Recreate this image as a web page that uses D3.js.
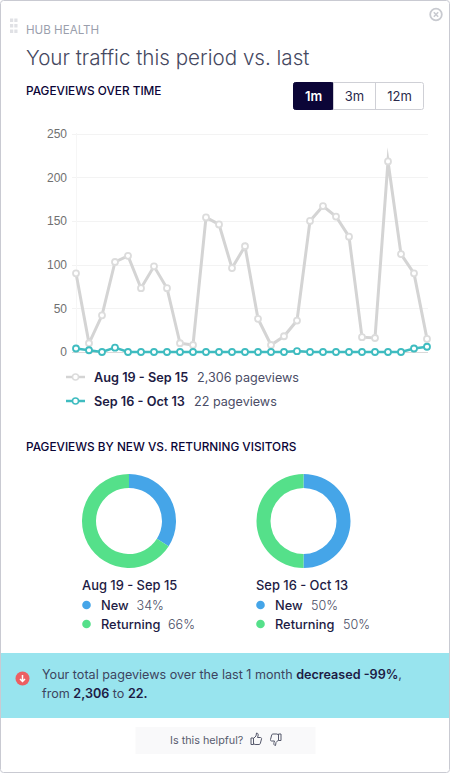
<!DOCTYPE html>
<html>
<head>
<meta charset="utf-8">
<script src="https://cdn.jsdelivr.net/npm/d3@7"></script>
<style>
body { margin: 0; background: #fff; }
svg { display: block; font-family: Inter, "Noto Sans", sans-serif; }
.axis text { font-family: "Liberation Sans", Arial, sans-serif; font-size: 12px; fill: #707070; }
</style>
</head>
<body>
<svg id="chart" width="450" height="773"></svg>
<script>
var days = ['Aug 19','Aug 20','Aug 21','Aug 22','Aug 23','Aug 24','Aug 25','Aug 26','Aug 27','Aug 28','Aug 29','Aug 30','Aug 31','Sep 1',
    'Sep 2','Sep 3','Sep 4','Sep 5','Sep 6','Sep 7','Sep 8','Sep 9','Sep 10','Sep 11','Sep 12','Sep 13','Sep 14','Sep 15']
var lastPeriod = [90,10,42,103,110,73,98,73,10,8,154,146,96,121,38,8,18,36,150,167,155,132,17,16,218,112,90,15]
var thisPeriod = [4,2,0,5,0,0,0,0,0,0,0,0,0,0,0,0,0,1,0,0,0,0,0,0,0,0,4,6]
var yTicks = [0,50,100,150,200,250]
var ranges = ['1m','3m','12m']
var periods = ['Aug 19 - Sep 15','Sep 16 - Oct 13']
var totals = ['2,306 pageviews','22 pageviews']
var visitorTypes = ['New','Returning']
var sharesLast = [34,66]
var sharesThis = [50,50]

var navy = '#0b0537', ink = '#1d1b44', body = '#4a4d66'
var gray = '#d4d4d4', teal = '#3fbcc0', blue = '#45a5e8', green = '#55e08a'

var svg = d3.select('#chart')

function label(x, y, s, size, weight, fill, anchor) {
    return svg.append('text')
        .attr('x', x).attr('y', y)
        .attr('font-size', size)
        .attr('font-weight', weight || 400)
        .attr('fill', fill || body)
        .attr('text-anchor', anchor || 'start')
        .text(s)
}

// card frame
svg.append('rect')
    .attr('x', 0.5).attr('y', 0.5).attr('width', 449).attr('height', 772).attr('rx', 3)
    .attr('fill', '#fff').attr('stroke', '#c9cad2')

// drag handle
d3.range(3).forEach(function (r) {
    d3.range(2).forEach(function (c) {
        svg.append('rect')
            .attr('x', 10 + c * 4.3).attr('y', 18.5 + r * 5.5).attr('width', 3.2).attr('height', 3.5)
            .attr('fill', '#e0e1e5')
    })
})

// close icon
var close = svg.append('g').attr('transform', 'translate(436,14.5)')
close.append('circle').attr('r', 5.8).attr('fill', 'none').attr('stroke', '#c8cad0').attr('stroke-width', 1.8)
close.append('path').attr('d', 'M-2.2-2.2L2.2 2.2M2.2-2.2L-2.2 2.2').attr('stroke', '#c8cad0').attr('stroke-width', 1.6)

label(26, 34, 'HUB HEALTH', 11.6, 400, '#9b9fad')
label(26, 65, 'Your traffic this period vs. last', 20.6, 300, '#45485f')
label(26, 95, 'PAGEVIEWS OVER TIME', 11.8, 500, navy)

// range buttons
var btnEdges = [293.5, 333.5, 375.5, 423.5]
svg.append('rect')
    .attr('x', btnEdges[0]).attr('y', 82.5).attr('width', btnEdges[3] - btnEdges[0]).attr('height', 27).attr('rx', 2)
    .attr('fill', '#fff').attr('stroke', '#cfd0d6')
ranges.forEach(function (r, i) {
    if (i == 0) {
        svg.append('rect')
            .attr('x', btnEdges[0]).attr('y', 82.5).attr('width', btnEdges[1] - btnEdges[0]).attr('height', 27).attr('rx', 2)
            .attr('fill', navy).attr('stroke', navy)
    } else {
        svg.append('line')
            .attr('x1', btnEdges[i]).attr('x2', btnEdges[i]).attr('y1', 82.5).attr('y2', 109.5)
            .attr('stroke', '#cfd0d6')
    }
    label((btnEdges[i] + btnEdges[i + 1]) / 2, 101, r, 13, i == 0 ? 600 : 400, i == 0 ? '#fff' : '#2b2a4c', 'middle')
})

// line chart
var x = d3.scalePoint().domain(days).range([76, 427])
var y = d3.scaleLinear().domain([0, 250]).range([352, 133.5])

var yAxis = svg.append('g')
    .attr('class', 'axis')
    .attr('transform', 'translate(72,0)')
    .call(d3.axisLeft(y).tickValues(yTicks).tickSize(0).tickPadding(5))
yAxis.select('.domain').remove()

svg.append('g').selectAll('line').data(yTicks).join('line')
    .attr('x1', 72).attr('x2', 428)
    .attr('y1', function (d) { return Math.round(y(d)) + 0.5 })
    .attr('y2', function (d) { return Math.round(y(d)) + 0.5 })
    .attr('stroke', function (d) { return d == 0 ? '#d9d9d9' : '#f3f3f3' })
svg.append('line')
    .attr('x1', 76.5).attr('x2', 76.5).attr('y1', 133).attr('y2', 352)
    .attr('stroke', '#f6f6f6')

var lineGen = d3.line()
    .x(function (d, i) { return x(days[i]) })
    .y(function (d) { return y(d) })

function series(values, color, width, dotStroke) {
    svg.append('path')
        .attr('d', lineGen(values))
        .attr('fill', 'none')
        .attr('stroke', color)
        .attr('stroke-width', width)
        .attr('stroke-linejoin', 'miter')
        .attr('stroke-miterlimit', 10)
    svg.append('g').selectAll('circle').data(values).join('circle')
        .attr('cx', function (d, i) { return x(days[i]) })
        .attr('cy', function (d) { return y(d) })
        .attr('r', 3)
        .attr('fill', '#fff')
        .attr('stroke', dotStroke)
        .attr('stroke-width', 1.8)
}
series(lastPeriod, gray, 3, '#dcdcdc')
series(thisPeriod, teal, 2.5, teal)

// line legend
var legendY = [377, 401]
var legendColors = [gray, teal]
var totalX = [197, 194]
periods.forEach(function (p, i) {
    svg.append('line')
        .attr('x1', 66).attr('x2', 85).attr('y1', legendY[i]).attr('y2', legendY[i])
        .attr('stroke', legendColors[i]).attr('stroke-width', 2.5)
    svg.append('circle')
        .attr('cx', 75.5).attr('cy', legendY[i]).attr('r', 3)
        .attr('fill', '#fff').attr('stroke', i == 0 ? '#dcdcdc' : teal).attr('stroke-width', 1.5)
    label(94, legendY[i] + 5, p, 12.7, 600, ink)
    label(totalX[i], legendY[i] + 5, totals[i], 12.6, 400, body)
})

label(26, 451, 'PAGEVIEWS BY NEW VS. RETURNING VISITORS', 11.8, 500, navy)

// donuts
var pie = d3.pie().sort(null)
var arc = d3.arc().innerRadius(33).outerRadius(47)
var donutColors = [blue, green]

function donut(cx, shares, period, left, pctX) {
    svg.append('g')
        .attr('transform', 'translate(' + cx + ',521)')
        .selectAll('path').data(pie(shares)).join('path')
        .attr('d', arc)
        .attr('fill', function (d, i) { return donutColors[i] })
    label(left, 590, period, 12.9, 500, ink)
    visitorTypes.forEach(function (t, i) {
        var rowY = 605 + i * 19
        svg.append('circle').attr('cx', left + 4.5).attr('cy', rowY).attr('r', 4.3).attr('fill', donutColors[i])
        label(left + 19, rowY + 4.5, t, 12.8, 500, ink)
        label(pctX[i], rowY + 4.5, shares[i] + '%', 12.6, 300, body)
    })
}
donut(129, sharesLast, periods[0], 82, [136.5, 168])
donut(303.5, sharesThis, periods[1], 256, [311, 343])

// summary banner
svg.append('rect').attr('x', 1).attr('y', 653).attr('width', 448).attr('height', 65).attr('fill', '#98e4ee')
svg.append('circle').attr('cx', 22.5).attr('cy', 678.5).attr('r', 7).attr('fill', '#ec5f62')
svg.append('path')
    .attr('d', 'M22.5 675v6M20 679l2.5 2.5l2.5-2.5')
    .attr('fill', 'none').attr('stroke', '#fff').attr('stroke-width', 1.5)

var line1 = label(42, 679, 'Your total pageviews over the last 1 month ', 12.6, 400, '#3d4460')
line1.append('tspan').attr('font-weight', 600).attr('fill', ink).text('decreased -99%')
line1.append('tspan').text(',')
var line2 = label(42, 698, 'from ', 12.6, 400, '#3d4460')
line2.append('tspan').attr('font-weight', 600).attr('fill', ink).text('2,306')
line2.append('tspan').text(' to ')
line2.append('tspan').attr('font-weight', 600).attr('fill', ink).text('22.')

// helpful box
svg.append('rect').attr('x', 135.5).attr('y', 727).attr('width', 180).attr('height', 27).attr('fill', '#f9f9fa')
label(170, 743.5, 'Is this helpful?', 10.8, 400, '#5a5d70')
var thumb = 'M0 4.5h2.5v6.5h-2.5zM2.5 5l2.5-2.5l.5-3c1.500 0 2 1.500 1.500 3l-.5 1.500h3c1 0 1.200 1 1 1.500l-1.200 4.500c-.2.6-.6 1-1.200 1h-4l-1.600-.8'
svg.append('path').attr('d', thumb).attr('transform', 'translate(251,733.500)')
    .attr('fill', 'none').attr('stroke', '#55586b').attr('stroke-width', 1)
svg.append('path').attr('d', thumb).attr('transform', 'translate(281,745) scale(-1,-1)')
    .attr('fill', 'none').attr('stroke', '#55586b').attr('stroke-width', 1)
</script>
</body>
</html>
